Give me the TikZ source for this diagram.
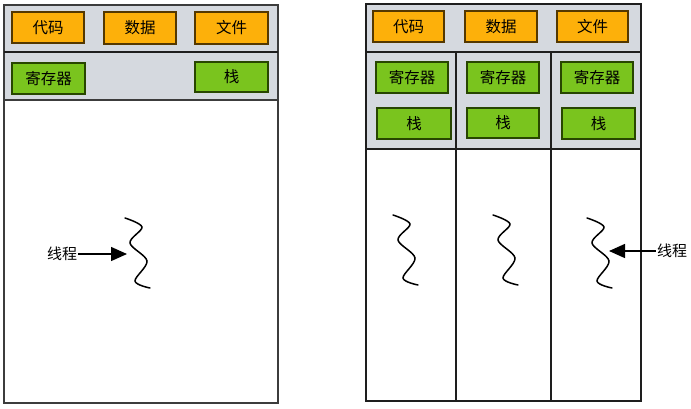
\documentclass[tikz,border=0pt]{standalone}
\usepackage{xcolor}
\usepackage{fontspec}
\usepackage{tikz}
\usetikzlibrary{arrows.meta}
\newfontfamily\cjk{Noto Sans CJK SC}
\definecolor{bandgray}{RGB}{213,217,223}
\definecolor{segfill}{RGB}{253,176,10}
\definecolor{segline}{RGB}{84,56,0}
\definecolor{regfill}{RGB}{122,196,30}
\definecolor{regline}{RGB}{40,70,0}
\tikzset{
	seg/.style={shape=rectangle, draw=segline, fill=segfill, line width=1.4pt, inner sep=0, font=\cjk\fontsize{15.5}{17}\selectfont},
	reg/.style={shape=rectangle, draw=regline, fill=regfill, line width=1.4pt, inner sep=0, font=\cjk\fontsize{15.5}{17}\selectfont},
	frame/.style={draw={rgb,255:red,30;green,30;blue,30}, line width=1.5pt},
	wave/.style={line width=1.5pt, line cap=round},
	lbl/.style={inner sep=1pt, font=\cjk\fontsize{15}{17}\selectfont},
	ptr/.style={line width=1.4pt, -{Triangle[length=16pt, width=14pt]}}
}
\begin{document}
\begin{tikzpicture}[x=1pt, y=-1pt]
	\useasboundingbox (0, 0) rectangle (691, 408);
	% Process, single thread:
	\fill[bandgray] (4, 5) rectangle (278, 100);
	\draw[frame, draw={rgb,255:red,60;green,60;blue,60}] (4, 5) rectangle (278, 403);
	\draw[frame] (4, 52) -- (278, 52);
	\draw[frame, draw={rgb,255:red,60;green,60;blue,60}] (4, 100) -- (278, 100);
	\node[seg, minimum width=72pt, minimum height=31pt](Code1) at (48, 27.5){代码};
	\node[seg, minimum width=72pt, minimum height=32pt](Data1) at (140, 28){数据};
	\node[seg, minimum width=73pt, minimum height=32pt](File1) at (231.5, 28){文件};
	\node[reg, minimum width=73pt, minimum height=31pt](Reg1) at (48.5, 78.5){寄存器};
	\node[reg, minimum width=73pt, minimum height=30pt](Stack1) at (231.5, 77){栈};
	\draw[wave] plot[smooth, tension=0.55] coordinates {(125, 218) (142, 227) (130, 243) (147, 261) (135, 281) (150, 288)};
	\coordinate (T1) at (127, 254);
	\node[lbl](Thread1) at (62, 254){线程};
	\draw[ptr] (Thread1.east) -- (T1);
	% Process, three threads:
	\fill[bandgray] (366, 4) rectangle (641, 149);
	\draw[frame] (366, 4) rectangle (641, 401);
	\draw[frame] (366, 52) -- (641, 52);
	\draw[frame] (366, 149) -- (641, 149);
	\draw[frame] (456, 52) -- (456, 401);
	\draw[frame] (551, 52) -- (551, 401);
	\node[seg, minimum width=71pt, minimum height=31pt](Code2) at (408.5, 26.5){代码};
	\node[seg, minimum width=72pt, minimum height=31pt](Data2) at (501, 26.5){数据};
	\node[seg, minimum width=71pt, minimum height=31pt](File2) at (592.5, 26.5){文件};
	\node[reg, minimum width=72pt, minimum height=31pt](Reg2) at (412, 77.5){寄存器};
	\node[reg, minimum width=72pt, minimum height=31pt](Reg3) at (503, 77.5){寄存器};
	\node[reg, minimum width=72pt, minimum height=31pt](Reg4) at (597, 77.5){寄存器};
	\node[reg, minimum width=74pt, minimum height=31pt](Stack2) at (414, 123.5){栈};
	\node[reg, minimum width=72pt, minimum height=30pt](Stack3) at (503, 123){栈};
	\node[reg, minimum width=73pt, minimum height=31pt](Stack4) at (598.5, 123.5){栈};
	\draw[wave, shift={(268, -3)}] plot[smooth, tension=0.55] coordinates {(125, 218) (142, 227) (130, 243) (147, 261) (135, 281) (150, 288)};
	\draw[wave, shift={(368, -3)}] plot[smooth, tension=0.55] coordinates {(125, 218) (142, 227) (130, 243) (147, 261) (135, 281) (150, 288)};
	\draw[wave, shift={(462, 0)}] plot[smooth, tension=0.55] coordinates {(125, 218) (142, 227) (130, 243) (147, 261) (135, 281) (150, 288)};
	\coordinate (T4) at (609, 251);
	\node[lbl](Thread4) at (672, 251){线程};
	\draw[ptr] (Thread4.west) -- (T4);
\end{tikzpicture}
\end{document}
